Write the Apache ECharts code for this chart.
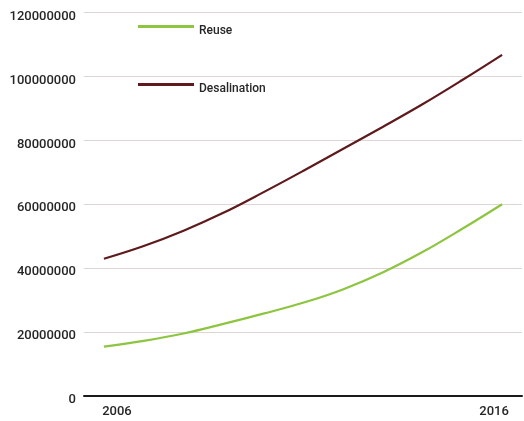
<!DOCTYPE html>
<html>
<head>
<meta charset="utf-8">
<script src="https://cdn.jsdelivr.net/npm/echarts@6/dist/echarts.min.js"></script>
<style>
html,body{margin:0;padding:0;background:#fff;}
#c{width:524px;height:421px;}
</style>
</head>
<body>
<div id="c"></div>
<script>
var years = ['2006','2007','2008','2009','2010','2011','2012','2013','2014','2015','2016'];
var reuse = [15400000, 17200000, 19500000, 22500000, 25700000, 29100000, 33300000, 38600000, 45000000, 52300000, 60000000];
var desalination = [42900000, 46900000, 51700000, 57300000, 63700000, 70400000, 77300000, 84200000, 91300000, 98900000, 106800000];
var shownYearLabels = ['2006', '2016'];
var yTicks = [0, 20000000, 40000000, 60000000, 80000000, 100000000, 120000000];

var FONT = 'Roboto, "Liberation Sans", Arial, sans-serif';
var TXT = '#262626';
var chart = echarts.init(document.getElementById('c'), null, {renderer: 'canvas'});
function legendCfg(name, top) {
  return {
    data: [name], left: 138, top: top, padding: 0,
    itemWidth: 56, itemHeight: 3, icon: 'rect',
    formatter: function (n) { return '{t|' + n + '}'; },
    textStyle: {
      fontFamily: FONT, fontSize: 12, fontWeight: 500, color: TXT,
      rich: {t: {fontFamily: FONT, fontSize: 12, fontWeight: 500, color: TXT, padding: [9, 0, 0, 0]}}
    }
  };
}
chart.setOption({
  backgroundColor: '#ffffff',
  animation: false,
  grid: {left: 84, right: 2, top: 12.7, bottom: 25.3, containLabel: false},
  legend: [legendCfg('Reuse', 25), legendCfg('Desalination', 83)],
  xAxis: {
    type: 'category',
    data: years,
    boundaryGap: true,
    axisLine: {show: true, lineStyle: {color: '#1a1a1a', width: 2}},
    axisTick: {show: false},
    splitLine: {show: false},
    axisLabel: {
      interval: 0,
      margin: 10,
      fontFamily: FONT,
      fontSize: 13,
      fontWeight: 500,
      color: TXT,
      formatter: function (v) {
        if (v === shownYearLabels[0]) return '{a|' + v + '}';
        if (v === shownYearLabels[1]) return '{b|' + v + '}';
        return '';
      },
      rich: {
        a: {fontFamily: FONT, fontSize: 13, fontWeight: 500, color: TXT, padding: [0, 0, 0, 26]},
        b: {fontFamily: FONT, fontSize: 13, fontWeight: 500, color: TXT, padding: [0, 16, 0, 0]}
      }
    }
  },
  yAxis: {
    type: 'value',
    min: yTicks[0],
    max: yTicks[yTicks.length - 1],
    interval: yTicks[1] - yTicks[0],
    axisLine: {show: false},
    axisTick: {show: false},
    splitLine: {show: true, lineStyle: {color: '#e0d4d4', width: 1}},
    axisLabel: {
      margin: 8,
      fontFamily: FONT,
      fontSize: 13,
      fontWeight: 500,
      color: TXT,
      formatter: function (v) { return '{y|' + v + '}'; },
      rich: {y: {fontFamily: FONT, fontSize: 13, fontWeight: 500, color: TXT, padding: [8, 0, 0, 0]}}
    }
  },
  series: [
    {name: 'Reuse', type: 'line', data: reuse, smooth: 0.4, symbol: 'none',
     lineStyle: {color: '#8dc540', width: 2.2}, itemStyle: {color: '#8dc540'}},
    {name: 'Desalination', type: 'line', data: desalination, smooth: 0.4, symbol: 'none',
     lineStyle: {color: '#5e1a1c', width: 2.2}, itemStyle: {color: '#5e1a1c'}}
  ]
});
</script>
</body>
</html>
